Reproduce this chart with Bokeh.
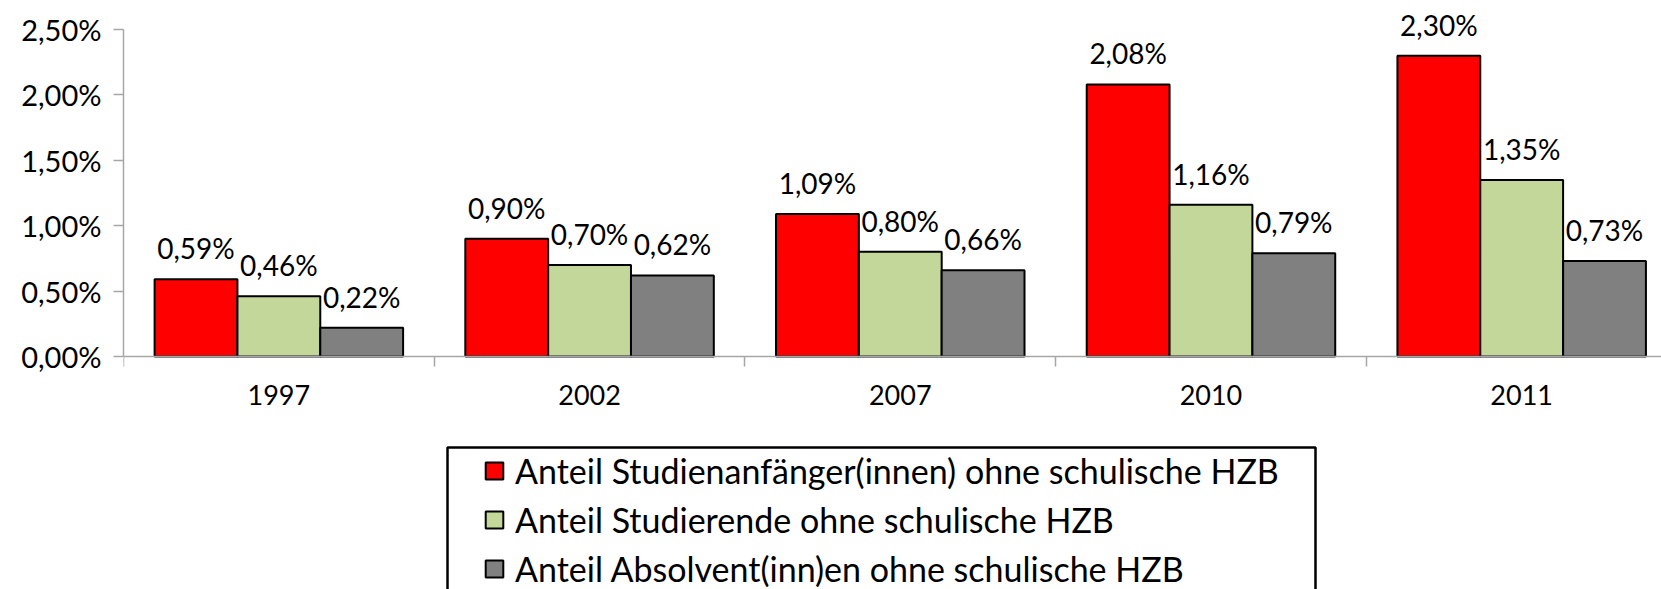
import numpy as np
from bokeh.plotting import figure
from bokeh.models import (Range1d, FixedTicker, CustomJSTickFormatter, Legend, LegendItem,
                          ColumnDataSource, LabelSet, BoxAnnotation)
from bokeh.core.properties import value
from bokeh.embed import file_html
from bokeh.resources import INLINE

years = ["1997", "2002", "2007", "2010", "2011"]
anfaenger = [0.59, 0.90, 1.09, 2.08, 2.30]
studierende = [0.46, 0.70, 0.80, 1.16, 1.35]
absolventen = [0.22, 0.62, 0.66, 0.79, 0.73]
series_names = ["Anteil Studienanfänger(innen) ohne schulische HZB",
                "Anteil Studierende ohne schulische HZB",
                "Anteil Absolvent(inn)en ohne schulische HZB"]
series_colors = ["#FF0000", "#C4D79B", "#808080"]
y_ticks = [0.0, 0.5, 1.0, 1.5, 2.0, 2.5]

FONT = "Lato"
AXIS_GRAY = "#A6A6A6"

p = figure(width=1661, height=589, output_backend="svg", toolbar_location=None,
           x_range=Range1d(0, 4.950), y_range=Range1d(-1.7813, 2.7217),
           min_border_left=123, min_border_right=0, min_border_top=0, min_border_bottom=0)
p.xgrid.visible = False
p.ygrid.visible = False
p.outline_line_color = None
p.background_fill_color = "white"

centers = np.arange(len(years)) + 0.5
bw = 0.2666
offsets = [-bw, 0.0, bw]
all_vals = [anfaenger, studierende, absolventen]

items = []
for vals, name, col, off in zip(all_vals, series_names, series_colors, offsets):
    src = ColumnDataSource(dict(x=centers + off, top=vals,
                                lab=[f"{v:.2f}".replace(".", ",") + "%" for v in vals]))
    r = p.vbar(x="x", top="top", width=bw, bottom=0, source=src,
               fill_color=col, line_color="black", line_width=2)
    items.append(LegendItem(label=name, renderers=[r]))
    labels = LabelSet(x="x", y="top", text="lab", source=src, text_align="center",
                      text_baseline="alphabetic", y_offset=20,
                      text_font=value(FONT), text_font_size=value("28px"),
                      text_color="black")
    p.add_layout(labels)

# y axis
ya = p.yaxis[0]
ya.ticker = FixedTicker(ticks=y_ticks)
ya.bounds = (0, 2.5)
ya.formatter = CustomJSTickFormatter(code="return tick.toFixed(2).replace('.', ',') + '%';")
ya.major_tick_out = 10
ya.major_tick_in = 0
ya.minor_tick_line_color = None
ya.axis_line_color = AXIS_GRAY
ya.axis_line_width = 1.5
ya.major_tick_line_color = AXIS_GRAY
ya.major_tick_line_width = 1.5
ya.major_label_standoff = 12
ya.major_label_text_font = FONT
ya.major_label_text_font_size = "29px"
ya.major_label_text_color = "black"

# x axis, pinned at y = 0 inside the frame
xa = p.xaxis[0]
xa.fixed_location = 0
xa.ticker = FixedTicker(ticks=list(centers), minor_ticks=list(np.arange(len(years) + 1)))
xa.major_label_overrides = {float(c): y for c, y in zip(centers, years)}
xa.major_tick_line_color = None
xa.minor_tick_out = 10
xa.minor_tick_in = 0
xa.minor_tick_line_color = AXIS_GRAY
xa.minor_tick_line_width = 1.5
xa.axis_line_color = AXIS_GRAY
xa.axis_line_width = 1.5
xa.major_label_standoff = 18
xa.major_label_text_font = FONT
xa.major_label_text_font_size = "27px"
xa.major_label_text_color = "black"

# legend frame (screen units, relative to the plot frame)
box = BoxAnnotation(left=324, right=1192, top=142, bottom=-30,
                    left_units="screen", right_units="screen",
                    top_units="screen", bottom_units="screen",
                    fill_alpha=0, line_color="black", line_width=2.5, line_alpha=1)
p.add_layout(box)

legend = Legend(items=items, location=(360, 0), orientation="vertical",
                label_text_font=FONT, label_text_font_size="34px", label_text_color="black",
                glyph_width=22, glyph_height=21, label_standoff=10, spacing=8,
                padding=10, margin=0, border_line_color=None,
                background_fill_alpha=0.0)
p.add_layout(legend, "center")

open("out.html", "w").write(file_html(p, INLINE))
